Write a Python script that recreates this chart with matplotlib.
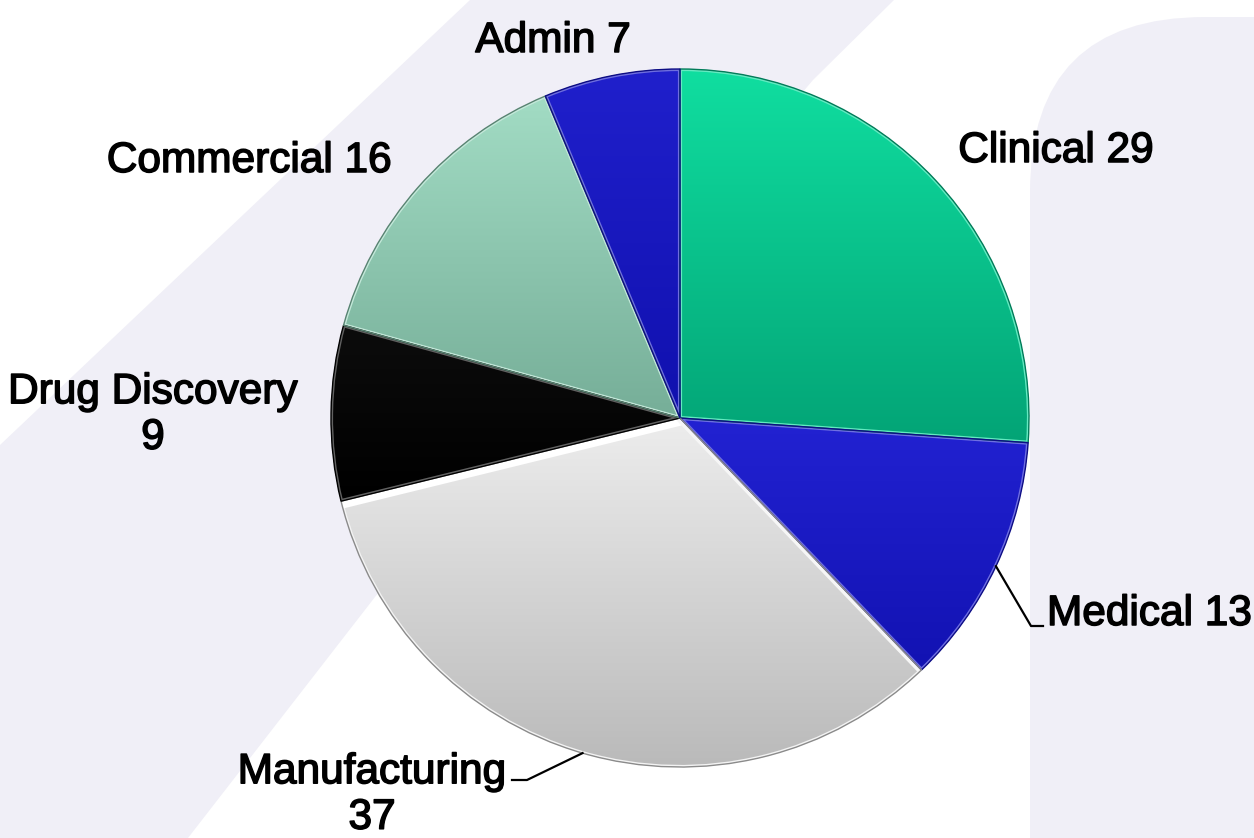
import numpy as np
import matplotlib
matplotlib.use('Agg')
import matplotlib.pyplot as plt
import matplotlib.patheffects as pe
from matplotlib.patches import Polygon, FancyBboxPatch, PathPatch
from matplotlib.colors import to_rgb

# ---- data ----
categories = ['Clinical', 'Medical', 'Manufacturing', 'Drug Discovery', 'Commercial', 'Admin']
values = [29, 13, 37, 9, 16, 7]
labels = ['Clinical 29', 'Medical 13', 'Manufacturing\n37', 'Drug Discovery\n9', 'Commercial 16', 'Admin 7']
top_colors = ['#10dea0', '#2222d2', '#ededed', '#0c0c0c', '#a2dcc4', '#2020cc']
bottom_colors = ['#03a476', '#1212b2', '#b9b9b9', '#000000', '#76ae98', '#1010ae']

W, H = 1254, 838
fig = plt.figure(figsize=(W / 100, H / 100), dpi=100)
ax = fig.add_axes([0, 0, 1, 1])
fig.patch.set_facecolor('white')


def Y(y):
    return H - y


# ---- background decoration ----
bg = '#f0eff7'
band = Polygon([(470, Y(0)), (894, Y(0)), (813, Y(80)), (375, Y(597)), (188, Y(838)),
                (0, Y(838)), (0, Y(445))], closed=True, fc=bg, ec='none', zorder=0)
ax.add_patch(band)
rbox = FancyBboxPatch((1030, -400), 600, Y(17) + 400,
                      boxstyle='round,pad=0,rounding_size=175', fc=bg, ec='none', zorder=0)
ax.add_patch(rbox)

# ---- pie ----
cx, cy, R = 680, Y(418), 349
wedges, _ = ax.pie(values, colors=top_colors, startangle=90, counterclock=False,
                   center=(cx, cy), radius=R,
                   wedgeprops=dict(linewidth=0, edgecolor='none', zorder=1))


def lighten(c, f):
    r = np.array(to_rgb(c))
    return tuple(r + (1 - r) * f)


def darken(c, f):
    r = np.array(to_rgb(c))
    return tuple(r * (1 - f))


for w, c0, c1 in zip(wedges, top_colors, bottom_colors):
    verts = w.get_patch_transform().transform(w.get_path().vertices)
    x0, x1 = verts[:, 0].min(), verts[:, 0].max()
    y0, y1 = verts[:, 1].min(), verts[:, 1].max()
    t = np.linspace(0, 1, 256)[:, None]
    grad = (1 - t) * np.array(to_rgb(c0)) + t * np.array(to_rgb(c1))
    grad = grad[:, None, :]
    im = ax.imshow(grad, extent=[x0, x1, y0, y1], origin='upper', aspect='auto',
                   interpolation='bilinear', zorder=2)
    im.set_clip_path(w)
    path = w.get_patch_transform().transform_path(w.get_path())
    rim = PathPatch(path, fc='none', ec=lighten(c0, 0.35), lw=3, zorder=3)
    ax.add_patch(rim)
    rim.set_clip_path(w)
    edge = PathPatch(path, fc='none', ec=darken(c1, 0.25), lw=1.0, zorder=4)
    ax.add_patch(edge)

# white bevel highlight on the Manufacturing slice radial edges
wm = wedges[categories.index('Manufacturing')]
for ang, lw, col in ((wm.theta1, 11, 'white'), (wm.theta2, 6, '#f6f6f6')):
    a = np.deg2rad(ang)
    ln, = ax.plot([cx, cx + R * np.cos(a)], [cy, cy + R * np.sin(a)],
                  color=col, lw=lw, solid_capstyle='butt', zorder=3.5)
    ln.set_clip_path(wm)

# ---- labels ----
font = dict(family=['Liberation Sans', 'DejaVu Sans'], size=30.5, color='black',
            path_effects=[pe.withStroke(linewidth=1.1, foreground='black')])
ax.text(553, Y(52), labels[5], ha='center', va='baseline', zorder=6, **font)
ax.text(1056, Y(162), labels[0], ha='center', va='baseline', zorder=6, **font)
ax.text(249, Y(172), labels[4], ha='center', va='baseline', zorder=6, **font)
ax.text(1047, Y(625), labels[1], ha='left', va='baseline', zorder=6, **font)
ax.text(153, Y(415), labels[3], ha='center', va='center', multialignment='center',
        linespacing=1.18, zorder=6, **font)
ax.text(372, Y(795), labels[2], ha='center', va='center', multialignment='center',
        linespacing=1.18, zorder=6, **font)

# leader lines
def edge_point(w):
    a = np.deg2rad((w.theta1 + w.theta2) / 2)
    return cx + R * np.cos(a), cy + R * np.sin(a)

wmed = wedges[categories.index('Medical')]
sx, sy = edge_point(wmed)
ax.plot([sx, 1031, 1043], [sy, Y(626), Y(626)], color='black', lw=1.6, zorder=6)
sx, sy = edge_point(wm)
ax.plot([sx, 527, 512], [sy, Y(780), Y(780)], color='black', lw=1.6, zorder=6)

ax.set_xlim(0, W)
ax.set_ylim(0, H)
ax.set_aspect('auto')
ax.axis('off')
fig.savefig('out.png', dpi=100, facecolor='white')
